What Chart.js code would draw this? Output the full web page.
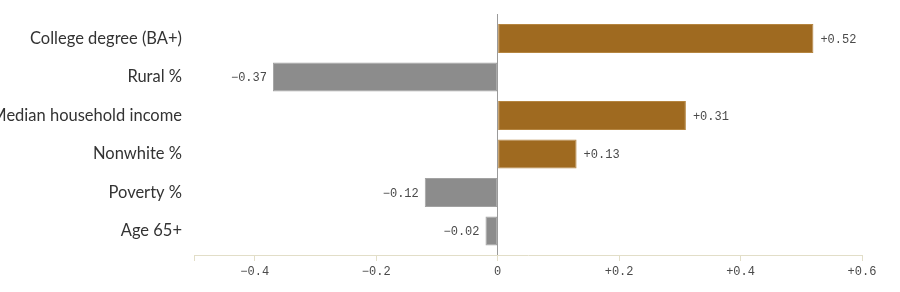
<!DOCTYPE html>
<html>
<head>
<meta charset="utf-8">
<script src="https://cdn.jsdelivr.net/npm/chart.js@4"></script>
<style>
  html, body { margin: 0; padding: 0; background: #fff; }
  #wrap { width: 900px; height: 292px; position: relative; }
</style>
</head>
<body>
<div id="wrap"><canvas id="c"></canvas></div>
<script>
const categories = ["College degree (BA+)", "Rural %", "Median household income", "Nonwhite %", "Poverty %", "Age 65+"];
const values = [0.52, -0.37, 0.31, 0.13, -0.12, -0.02];
const xTickValues = [-0.5, -0.4, -0.2, 0, 0.2, 0.4, 0.6];
const xTickLabels = ["", "\u22120.4", "\u22120.2", "0", "+0.2", "+0.4", "+0.6"];
const valueLabels = ["+0.52", "\u22120.37", "+0.31", "+0.13", "\u22120.12", "\u22120.02"];

const POS = "#9f6a20", NEG = "#8c8c8c";
const MONO = "'Liberation Mono', 'DejaVu Sans Mono', monospace";

const valueLabelPlugin = {
  id: 'valueLabels',
  afterDatasetsDraw(chart) {
    const ctx = chart.ctx;
    const meta = chart.getDatasetMeta(0);
    ctx.save();
    ctx.font = "12px " + MONO;
    ctx.fillStyle = "#4a4a4a";
    ctx.textBaseline = "middle";
    meta.data.forEach((bar, i) => {
      const v = values[i];
      if (v >= 0) { ctx.textAlign = "left"; ctx.fillText(valueLabels[i], bar.x + 7, bar.y + 1); }
      else { ctx.textAlign = "right"; ctx.fillText(valueLabels[i], bar.x - 6, bar.y + 1); }
    });
    ctx.restore();
  }
};

new Chart(document.getElementById('c'), {
  type: 'bar',
  data: {
    datasets: [{
      data: values.map((v, i) => ({ x: v, y: i })),
      backgroundColor: values.map(v => v >= 0 ? POS : NEG),
      borderColor: values.map(v => v >= 0 ? "#b58540" : "#a2a2a2"),
      borderWidth: 1,
      borderSkipped: false,
      categoryPercentage: 1,
      barPercentage: 0.75
    }]
  },
  options: {
    indexAxis: 'y',
    responsive: true,
    maintainAspectRatio: false,
    animation: false,
    layout: { padding: { top: 14, right: 38, bottom: 0, left: 0 } },
    plugins: { legend: { display: false }, tooltip: { enabled: false } },
    scales: {
      x: {
        type: 'linear',
        bounds: 'data',
        offset: false,
        min: -0.5, max: 0.6,
        afterBuildTicks: s => { s.ticks = xTickValues.map(v => ({ value: v })); },
        afterFit: s => { s.height = 37; s.paddingLeft = 0; s.paddingRight = 0; },
        grid: {
          offset: false,
          color: c => (c.tick && Math.abs(c.tick.value) < 1e-9) ? "#9a9a9a" : "rgba(0,0,0,0)",
          tickColor: "#e2dec8",
          tickLength: 6,
          lineWidth: 1
        },
        border: { display: true, color: "#e2dec8", width: 1 },
        ticks: {
          autoSkip: false,
          maxRotation: 0,
          padding: 4,
          color: "#4a4a4a",
          font: { family: MONO, size: 12 },
          callback: (val, idx) => xTickLabels[idx]
        }
      },
      y: {
        type: 'linear',
        bounds: 'data',
        offset: false,
        reverse: true,
        min: -0.636, max: 5.623,
        afterBuildTicks: s => { s.ticks = categories.map((_, i) => ({ value: i })); },
        afterFit: s => { s.width = 194; s.paddingTop = 0; s.paddingBottom = 0; },
        grid: { display: false, drawTicks: false, offset: false },
        border: { display: false },
        ticks: {
          autoSkip: false,
          padding: 12,
          color: "#333",
          font: { family: "Lato", size: 16.5 },
          callback: (val) => categories[val]
        }
      }
    }
  },
  plugins: [valueLabelPlugin]
});
</script>
</body>
</html>
